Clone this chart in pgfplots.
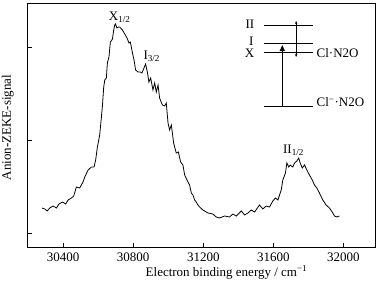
\documentclass[border=0pt]{standalone}
\usepackage{fontspec}
\setmainfont{Liberation Serif}
\usepackage{pgfplots}
\pgfplotsset{compat=1.18}
\usetikzlibrary{calc,arrows.meta}

\begin{document}
\begin{tikzpicture}
\begin{axis}[
  name=ax,
  scale only axis,
  width=347pt, height=244pt,
  xmin=30200, xmax=32180, ymin=-14, ymax=230,
  xtick={30400,30800,31200,31600,32000},
  scaled x ticks=false,
  ytick={0,93,186}, yticklabels={},
  xtick pos=bottom, ytick pos=left,
  tick align=inside, major tick length=4pt,
  axis line style={line width=1pt},
  tick style={line width=0.9pt, black},
  /pgf/number format/assume math mode=true,
  /pgf/number format/set thousands separator={},
  tick label style={font=\fontsize{13}{15}\selectfont},
  xticklabel style={anchor=center, yshift=-10pt},
  xlabel={Electron binding energy / cm\textsuperscript{−1}},
  ylabel={Anion-ZEKE-signal},
  label style={font=\fontsize{13}{15}\selectfont},
  xlabel style={at={(axis description cs:0.572,-0.104)}, anchor=center},
  ylabel style={at={(axis description cs:-0.058,0.49)}, anchor=center},
  clip=false,
]
\addplot[black, line width=0.8pt] coordinates {
(30280,25)(30296,24)(30309,22)(30324,25)(30343,27)(30362,25)(30377,29)(30397,31)
(30415,29)(30429,33)(30448,35)(30461,37)(30476,46)(30495,45)(30514,51)(30524,56)
(30543,63)(30562,66)(30577,66)(30586,73)(30596,86)(30609,98)(30619,116)(30625,128)
(30632,146)(30638,153)(30647,155)(30653,170)(30662,176)(30670,191)(30682,194)(30689,203)
(30695,208)(30699,209)(30708,205)(30716,206)(30723,206)(30739,203)(30752,199)(30765,195)
(30776,190)(30784,191)(30796,180)(30805,173)(30814,163)(30828,161)(30841,161)(30850,160)
(30862,165)(30871,169)(30881,161)(30890,151)(30900,155)(30913,143)(30923,150)(30932,141)
(30942,148)(30951,135)(30967,128)(30980,127)(30989,130)(30999,110)(31008,103)(31018,108)
(31031,90)(31046,80)(31058,81)(31071,71)(31084,68)(31094,58)(31107,53)(31122,48)
(31132,40)(31141,38)(31151,33)(31160,31)(31170,28)(31179,26)(31198,23)(31227,20)
(31255,19)(31274,16)(31293,15)(31322,17)(31350,16)(31369,19)(31388,17)(31417,22)
(31436,18)(31455,20)(31474,23)(31493,21)(31521,28)(31540,24)(31559,27)(31578,26)
(31597,32)(31612,35)(31626,33)(31645,43)(31654,53)(31669,60)(31677,70)(31688,66)
(31696,68)(31711,66)(31721,70)(31734,72)(31745,75)(31753,70)(31765,65)(31778,68)
(31791,63)(31806,58)(31822,53)(31835,48)(31848,45)(31863,40)(31882,33)(31901,28)
(31920,25)(31936,21)(31949,17)(31962,16)(31977,17)
};
% peak labels
\node[font=\fontsize{13}{15}\selectfont] at (axis cs:30723,216) {X\textsubscript{1/2}};
\node[font=\fontsize{13}{15}\selectfont] at (axis cs:30906,177) {I\textsubscript{3/2}};
\node[font=\fontsize{13}{15}\selectfont] at (axis cs:31715,83) {II\textsubscript{1/2}};
% inset level diagram
\draw[line width=0.6pt] (axis cs:31544,208) -- (axis cs:31829,208);
\draw[line width=0.6pt] (axis cs:31544,190) -- (axis cs:31829,190);
\draw[line width=0.6pt] (axis cs:31544,181) -- (axis cs:31829,181);
\draw[line width=0.8pt] (axis cs:31544,127) -- (axis cs:31829,127);
\draw[line width=1.2pt, -{Triangle[length=6pt,width=5pt]}] (axis cs:31651,127) -- (axis cs:31651,188);
\draw[line width=0.5pt, {Stealth[length=3pt,width=2.5pt]}-{Stealth[length=3pt,width=2.5pt]}] (axis cs:31730,212) -- (axis cs:31730,176);
\begin{scope}[every node/.style={font=\fontsize{13}{15}\selectfont, inner sep=0pt}]
\node[anchor=east] at (axis cs:31492,209) {II};
\node at (axis cs:31474,192) {I};
\node at (axis cs:31464,180) {X};
\node[anchor=west] at (axis cs:31846,180) {Cl·N2O};
\node[anchor=west] at (axis cs:31846,131) {Cl\textsuperscript{−}·N2O};
\end{scope}
\end{axis}
\pgfresetboundingbox
\path ($(ax.south west)+(-28pt,-38pt)$) rectangle ($(ax.north east)+(5pt,3pt)$);
\end{tikzpicture}
\end{document}
